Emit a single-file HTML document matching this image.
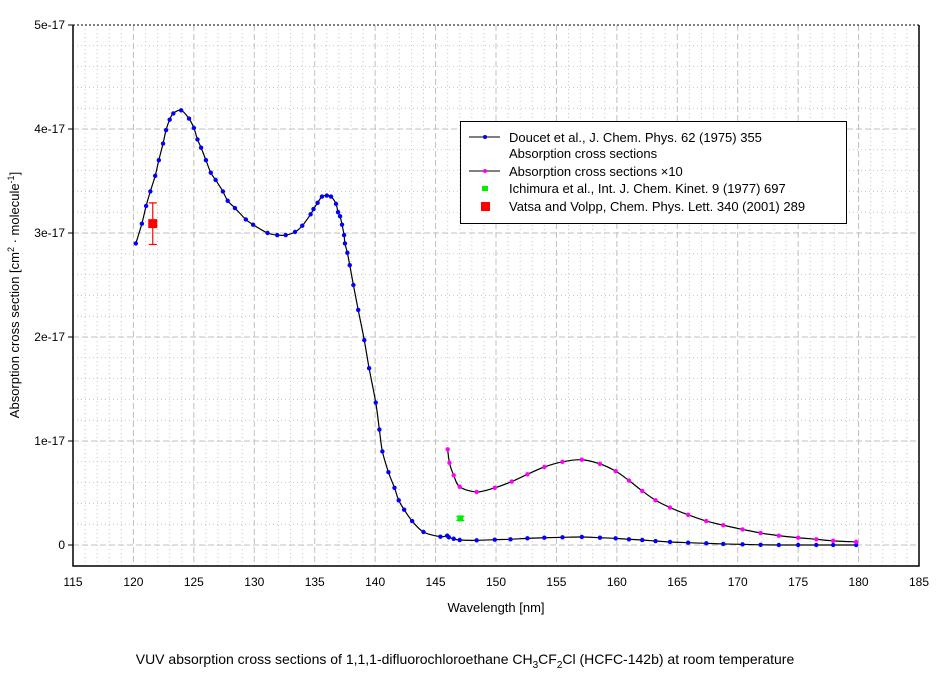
<!DOCTYPE html>
<html><head><meta charset="utf-8"><style>
body{margin:0;background:#fff;}
svg{display:block;font-family:"Liberation Sans",sans-serif;}
</style></head><body>
<svg id="chart" width="944" height="676" viewBox="0 0 944 676">
<g id="grid"></g>
<g id="axes"></g>
<g id="series"></g>
<g>
<rect x="460.5" y="121.5" width="386" height="102" fill="#fff" stroke="#000"/>
<g><line x1="469" y1="137" x2="500" y2="137" stroke="#000"/><circle cx="485" cy="137" r="2" fill="#0000ff"/><text x="509" y="142" font-size="13">Doucet et al., J. Chem. Phys. 62 (1975) 355</text><text x="509" y="158" font-size="13">Absorption cross sections</text></g>
<g><line x1="469" y1="171" x2="500" y2="171" stroke="#000"/><circle cx="485" cy="171" r="2" fill="#ff00ff"/><text x="509" y="176" font-size="13">Absorption cross sections ×10</text></g>
<g><rect x="482" y="186" width="6" height="5" fill="#00ee00"/><text x="509" y="193" font-size="13">Ichimura et al., Int. J. Chem. Kinet. 9 (1977) 697</text></g>
<g><rect x="481" y="202" width="9" height="9" fill="#ff0000"/><text x="509" y="211" font-size="13">Vatsa and Volpp, Chem. Phys. Lett. 340 (2001) 289</text></g>
</g>
<text x="496" y="612" font-size="13" text-anchor="middle">Wavelength [nm]</text>
<text transform="translate(19,295) rotate(-90)" font-size="13" text-anchor="middle">Absorption cross section [cm<tspan font-size="9" dy="-5">2</tspan><tspan dy="5"> · molecule</tspan><tspan font-size="9" dy="-5">-1</tspan><tspan dy="5">]</tspan></text>
<text x="465" y="664" font-size="14" text-anchor="middle">VUV absorption cross sections of 1,1,1-difluorochloroethane CH<tspan font-size="10" dy="4">3</tspan><tspan dy="-4">CF</tspan><tspan font-size="10" dy="4">2</tspan><tspan dy="-4">Cl (HCFC-142b) at room temperature</tspan></text>
</svg>
<script>
const xTicks=[115,120,125,130,135,140,145,150,155,160,165,170,175,180,185];
const yTicks=[0,1,2,3,4,5];
const yTickLabels=["0","1e-17","2e-17","3e-17","4e-17","5e-17"];
const doucetX=[120.2,120.7,121.05,121.4,121.8,122.1,122.45,122.7,123.0,123.3,123.95,124.6,125.0,125.3,125.6,126.0,126.4,126.8,127.4,127.8,128.4,129.3,129.9,131.1,131.9,132.6,133.37,133.97,134.66,134.9,135.24,135.6,136.0,136.35,136.76,136.93,137.1,137.26,137.43,137.5,137.7,137.9,138.2,138.6,139.1,139.5,140.05,140.35,140.6,141.1,141.6,141.95,142.4,143.06,144.0,145.4,145.96,146.1,146.5,147.0,148.4,149.9,151.2,152.6,154.0,155.5,157.1,158.6,159.9,161.0,162.1,163.2,164.4,165.9,167.4,168.8,170.4,171.9,173.4,175.0,176.5,177.9,179.8];
const doucetY=[2.90,3.09,3.26,3.40,3.55,3.70,3.86,3.99,4.09,4.15,4.18,4.10,4.01,3.90,3.82,3.70,3.58,3.51,3.40,3.31,3.24,3.13,3.08,3.00,2.98,2.98,3.01,3.07,3.18,3.23,3.29,3.35,3.36,3.35,3.28,3.20,3.16,3.08,2.98,2.90,2.81,2.69,2.50,2.26,1.97,1.70,1.37,1.11,0.90,0.70,0.55,0.43,0.34,0.23,0.125,0.08,0.09,0.074,0.06,0.048,0.045,0.051,0.055,0.064,0.07,0.074,0.077,0.07,0.064,0.055,0.048,0.038,0.029,0.022,0.016,0.01,0.006,0.002,0.0,0.0,0.0,0.0,0.0];
const x10X=[146.0,146.15,146.5,147.0,148.4,149.9,151.3,152.6,154.0,155.5,157.1,158.6,159.9,161.0,162.1,163.2,164.4,165.9,167.4,168.8,170.4,171.9,173.4,175.0,176.5,177.9,179.8];
const x10Y=[0.92,0.79,0.67,0.56,0.51,0.55,0.61,0.68,0.75,0.80,0.82,0.78,0.71,0.62,0.52,0.43,0.36,0.29,0.23,0.19,0.15,0.115,0.09,0.07,0.055,0.04,0.03];
const ichimuraX=[147.05];const ichimuraY=[0.256];const ichimuraErr=[0.02];
const vatsaX=[121.6];const vatsaY=[3.09];const vatsaErr=[0.2];

const X0=73,X1=919,Y0=545,Ytop=25,BOT=566;
const sx=v=>X0+(v-115)*(X1-X0)/70;
const sy=v=>Y0-v*(Y0-Ytop)/5;
const NS='http://www.w3.org/2000/svg';
function mk(tag,attrs,parent){const e=document.createElementNS(NS,tag);for(const k in attrs)e.setAttribute(k,attrs[k]);parent.appendChild(e);return e;}
const grid=document.getElementById('grid'),axes=document.getElementById('axes'),ser=document.getElementById('series');
for(let v=116;v<185;v++){if(v%5===0)continue;const l=mk('line',{x1:sx(v),x2:sx(v),y1:Ytop,y2:BOT,stroke:'#c8c8c8','stroke-dasharray':'1,3'},grid);

}
for(let v=-0.2;v<5;v+=0.2){const r=Math.round(v*10);if(r%10===0)continue;const l=mk('line',{x1:X0,x2:X1,y1:sy(v),y2:sy(v),stroke:'#c8c8c8','stroke-dasharray':'1,3'},grid);

}
xTicks.forEach(v=>{if(v>115&&v<185){const l=mk('line',{x1:sx(v),x2:sx(v),y1:Ytop,y2:BOT,stroke:'#c0c0c0','stroke-dasharray':'6,3'},grid);

}});
yTicks.forEach(v=>{const l=mk('line',{x1:X0,x2:X1,y1:sy(v),y2:sy(v),stroke:v===5?'#000':'#c0c0c0','stroke-dasharray':v===5?'2,2':'6,3'},grid);

});
const ax=mk('path',{d:`M${X0},${Ytop}V${BOT}H${X1}V${Ytop}`,fill:'none',stroke:'#000','stroke-width':1.5},axes);


xTicks.forEach(v=>{const t=mk('text',{x:sx(v),y:586,'font-size':12,'text-anchor':'middle'},axes);t.textContent=v;

});
yTicks.forEach((v,i)=>{const tk=mk('line',{x1:X0-5,x2:X0,y1:sy(v),y2:sy(v),stroke:'#000'},axes);


const t=mk('text',{x:X0-8,y:sy(v)+4,'font-size':12,'text-anchor':'end'},axes);t.textContent=yTickLabels[i];

});
function smooth(xs,ys){const p=xs.map((x,i)=>[sx(x),sy(ys[i])]);let d=`M${p[0][0]},${p[0][1]}`;
for(let i=0;i<p.length-1;i++){const a=p[Math.max(0,i-1)],b=p[i],c=p[i+1],e=p[Math.min(p.length-1,i+2)];
d+=`C${b[0]+(c[0]-a[0])/6},${b[1]+(c[1]-a[1])/6} ${c[0]-(e[0]-b[0])/6},${c[1]-(e[1]-b[1])/6} ${c[0]},${c[1]}`;}return d;}
function series(xs,ys,col,name){const l=mk('path',{d:smooth(xs,ys),fill:'none',stroke:'#000','stroke-width':1.2},ser);


xs.forEach((x,i)=>{const c=mk('circle',{cx:sx(x),cy:sy(ys[i]),r:2.2,fill:col},ser);

});}
series(doucetX,doucetY,'#0000ff','doucet');
series(x10X,x10Y,'#ff00ff','doucet-x10');
function errPts(xs,ys,es,col,w,h,name){xs.forEach((x,i)=>{const cx=sx(x),y1=sy(ys[i]+es[i]),y2=sy(ys[i]-es[i]);
const eb=mk('path',{d:`M${cx},${y1}V${y2}M${cx-4},${y1}H${cx+4}M${cx-4},${y2}H${cx+4}`,stroke:col,'stroke-width':1.2,fill:'none'},ser);


const r=mk('rect',{x:cx-w/2,y:sy(ys[i])-h/2,width:w,height:h,fill:col},ser);

});}
errPts(ichimuraX,ichimuraY,ichimuraErr,'#00ee00',6,6,'ichimura');
errPts(vatsaX,vatsaY,vatsaErr,'#ff0000',9,9,'vatsa');
</script>
</body></html>
